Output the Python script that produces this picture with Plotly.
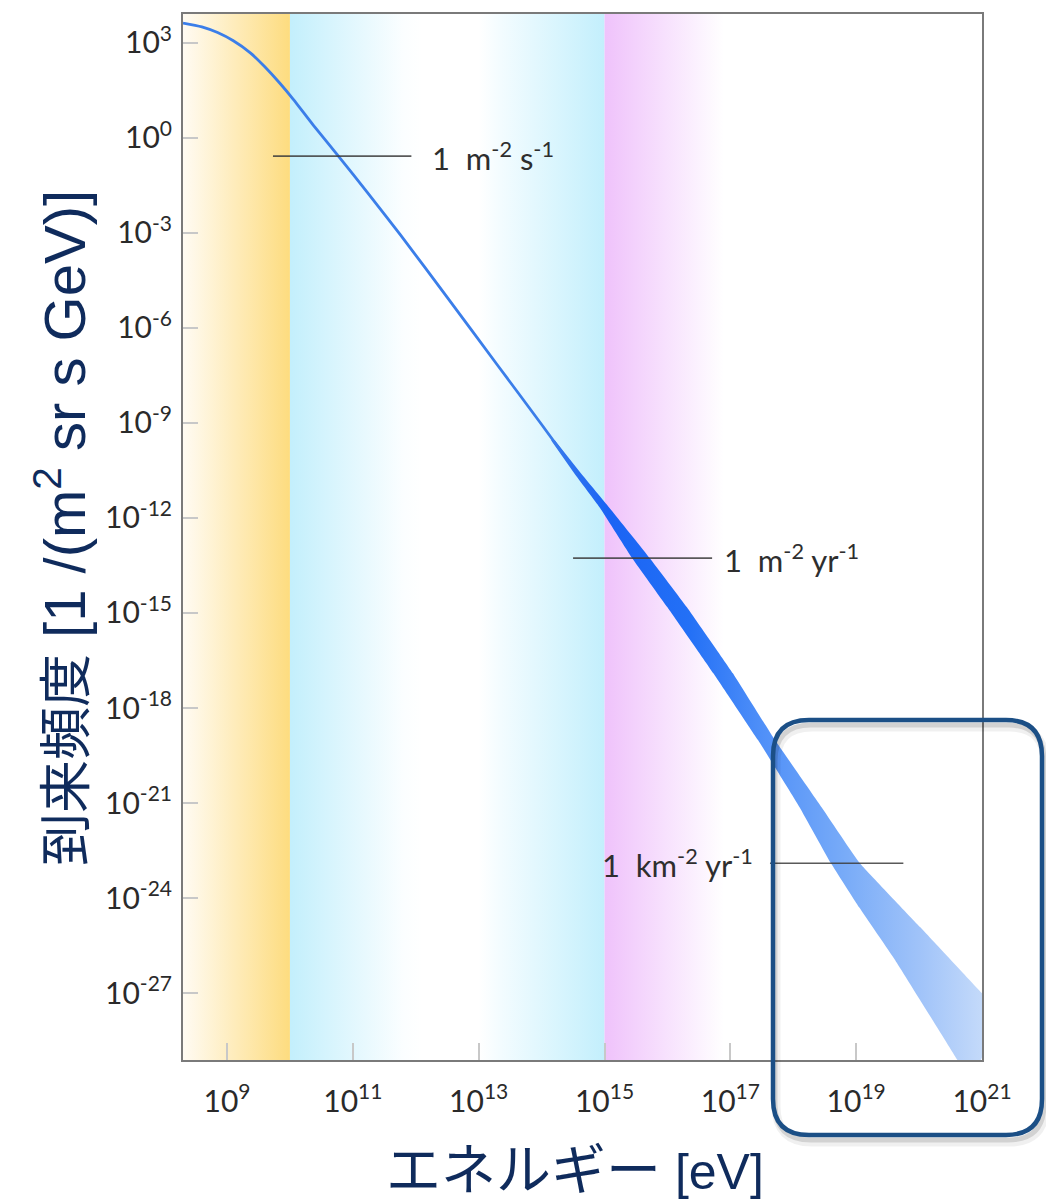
import plotly.graph_objects as go

# ---------------- data (log10 values) ----------------
# thin part of the all-particle spectrum (centre line)
log10_energy_eV = [8.30, 8.60, 8.85, 9.10, 9.37, 9.60, 9.84, 10.05, 10.37, 10.77,
                   11.22, 11.75, 12.5, 13.3, 14.0, 14.6]
log10_flux = [3.62, 3.50, 3.32, 3.06, 2.68, 2.24, 1.72, 1.22, 0.40, -0.58,
              -1.70, -3.05, -5.04, -7.18, -9.05, -10.68]

# wide part of the spectrum: upper (right) and lower (left) edges of the band
band_upper_log10_energy = [14.21, 14.66, 15.07, 15.72, 16.31, 17.04, 17.71, 18.45,
                           19.06, 20.02, 21.0, 21.29]
band_upper_log10_flux = [-9.55, -10.68, -11.66, -13.27, -14.82, -16.90, -19.01, -21.13,
                         -22.90, -24.92, -27.00, -27.60]
band_lower_log10_energy = [14.15, 14.55, 14.92, 15.44, 16.00, 16.73, 17.44, 18.10,
                           18.60, 19.05, 19.62, 20.61, 20.81]
band_lower_log10_flux = [-9.55, -10.68, -11.66, -13.27, -14.82, -16.90, -19.01, -21.13,
                         -22.90, -24.30, -25.96, -29.11, -29.75]

# reference flux levels
ref_labels = ["1\u00a0 m<sup>-2</sup> s<sup>-1</sup>",
              "1\u00a0 m<sup>-2</sup> yr<sup>-1</sup>",
              "1\u00a0 km<sup>-2</sup> yr<sup>-1</sup>"]
ref_log10_flux = [-0.58, -13.27, -22.90]
ref_line_start = [9.73, 14.50, 17.63]
ref_line_end = [11.93, 16.71, 19.75]
ref_label_log10_energy = [12.23, 16.87, 14.93]

# energy regions (log10 eV)
region_edges = [8.30, 10.0, 15.0, 16.9]

# axes
x_range = [8.30, 21.0]
y_range = [-29.11, 3.906]
x_tick_exponents = [9, 11, 13, 15, 17, 19, 21]
y_tick_exponents = [3, 0, -3, -6, -9, -12, -15, -18, -21, -24, -27]

# ---------------- figure ----------------
W, H = 1046, 1200
ML, MR, MT, MB = 183, 64, 14, 140
PW, PH = W - ML - MR, H - MT - MB


def p10(v):
    return 10.0 ** v


fig = go.Figure()

ylo, yhi = p10(y_range[0] - 1), p10(y_range[1] + 1)


def region(x0, x1, scale):
    fig.add_trace(go.Scatter(
        x=[p10(x0), p10(x1), p10(x1), p10(x0), p10(x0)],
        y=[ylo, ylo, yhi, yhi, ylo],
        mode="lines", line=dict(width=0), fill="toself",
        fillgradient=dict(type="horizontal", colorscale=scale),
        hoverinfo="skip", showlegend=False))


region(region_edges[0], region_edges[1], [[0, "#fffbf3"], [1, "#fddc7f"]])
region(region_edges[1], region_edges[2],
       [[0, "#c3effc"], [0.36, "#fbfeff"], [0.42, "#ffffff"], [0.6, "#ffffff"],
        [0.67, "#f3fcff"], [1, "#c3effc"]])
region(region_edges[2], region_edges[3], [[0, "#efc2fb"], [1, "#ffffff"]])

# thin part of the spectrum
fig.add_trace(go.Scatter(
    x=[p10(v) for v in log10_energy_eV], y=[p10(v) for v in log10_flux],
    mode="lines", line=dict(color="#3b7ee9", width=2.8, shape="spline", smoothing=0.7),
    hoverinfo="skip", showlegend=False))

# band
bx = [p10(v) for v in band_upper_log10_energy] + [p10(v) for v in band_lower_log10_energy[::-1]]
by = [p10(v) for v in band_upper_log10_flux] + [p10(v) for v in band_lower_log10_flux[::-1]]
fig.add_trace(go.Scatter(
    x=bx, y=by,
    mode="lines", line=dict(width=0, shape="spline", smoothing=0.3), fill="toself",
    fillgradient=dict(type="horizontal", colorscale=[
        [0, "#3a7cec"], [0.126, "#1a63f4"], [0.307, "#2370f6"], [0.472, "#5090f8"],
        [0.653, "#78abf8"], [0.82, "#a0c3f9"], [0.96, "#c4dafa"], [1, "#c9ddfa"]]),
    hoverinfo="skip", showlegend=False))

# reference lines + labels
for lab, fl, x0, x1, xl in zip(ref_labels, ref_log10_flux, ref_line_start,
                               ref_line_end, ref_label_log10_energy):
    fig.add_trace(go.Scatter(
        x=[p10(x0), p10(x1)], y=[p10(fl), p10(fl)], mode="lines",
        line=dict(color="rgba(60,60,60,0.85)", width=1.6),
        hoverinfo="skip", showlegend=False))
    fig.add_annotation(x=xl, y=fl, xref="x", yref="y", text=lab,
                       showarrow=False, xanchor="left", yanchor="middle",
                       font=dict(family="Lato", size=31, color="#2e2e2e"))

xticktext = [f"10<sup>{e}</sup>" for e in x_tick_exponents]
yticktext = [f"10<sup>{e}</sup>" for e in y_tick_exponents]

fig.update_xaxes(type="log", range=x_range,
                 tickvals=[p10(e) for e in x_tick_exponents], ticktext=xticktext,
                 ticks="inside", ticklen=17, tickwidth=1.5, tickcolor="#c8c8c8",
                 showline=True, linecolor="#7a7a7a", linewidth=2, mirror=True,
                 showgrid=False, zeroline=False,
                 tickfont=dict(family="Lato", size=30, color="#2a2a2a"),
                 ticklabelstandoff=14)
fig.update_yaxes(type="log", range=y_range,
                 tickvals=[p10(e) for e in y_tick_exponents], ticktext=yticktext,
                 ticks="inside", ticklen=15, tickwidth=1.5, tickcolor="#c8c8c8",
                 showline=True, linecolor="#7a7a7a", linewidth=2, mirror=True,
                 showgrid=False, zeroline=False,
                 tickfont=dict(family="Lato", size=30, color="#2a2a2a"),
                 ticklabelstandoff=3)

title_font = dict(family="Liberation Sans, Noto Sans CJK JP", color="#0f2b5c")


def px_x(p):
    return (p - ML) / PW


def px_y(p):
    return (H - MB - p) / PH


fig.add_annotation(x=px_x(575), y=px_y(1170), xref="paper", yref="paper",
                   text="<span style='font-size:55px'>エネルギー</span> [eV]",
                   showarrow=False, xanchor="center", yanchor="middle",
                   font=dict(size=50, **title_font))
fig.add_annotation(x=px_x(60), y=px_y(528), xref="paper", yref="paper",
                   text="<span style='font-size:53px'>到来頻度</span> [1 /(m<sup>2</sup> sr s GeV)]",
                   showarrow=False,
                   textangle=-90, xanchor="center", yanchor="middle",
                   font=dict(size=58, **title_font))


def rounded_path(x0, y0, x1, y1, r):
    X = px_x
    Y = px_y
    return (f"M {X(x0 + r)},{Y(y0)} L {X(x1 - r)},{Y(y0)} "
            f"Q {X(x1)},{Y(y0)} {X(x1)},{Y(y0 + r)} L {X(x1)},{Y(y1 - r)} "
            f"Q {X(x1)},{Y(y1)} {X(x1 - r)},{Y(y1)} L {X(x0 + r)},{Y(y1)} "
            f"Q {X(x0)},{Y(y1)} {X(x0)},{Y(y1 - r)} L {X(x0)},{Y(y0 + r)} "
            f"Q {X(x0)},{Y(y0)} {X(x0 + r)},{Y(y0)} Z")


# shadow + highlight box
for dx, dy, wdt, col in [(3, 7, 9, "rgba(0,0,0,0.06)"), (2, 5, 5, "rgba(0,0,0,0.12)")]:
    fig.add_shape(type="path", xref="paper", yref="paper",
                  path=rounded_path(773 + dx, 720 + dy, 1042 + dx, 1135 + dy, 36),
                  line=dict(color=col, width=wdt), layer="above")
fig.add_shape(type="path", xref="paper", yref="paper",
              path=rounded_path(773, 720, 1042, 1135, 36),
              line=dict(color="#1b4f86", width=4.5), layer="above")

fig.update_layout(width=W, height=H, margin=dict(l=ML, r=MR, t=MT, b=MB),
                  paper_bgcolor="white", plot_bgcolor="white", showlegend=False)

fig.write_html("out.html")
